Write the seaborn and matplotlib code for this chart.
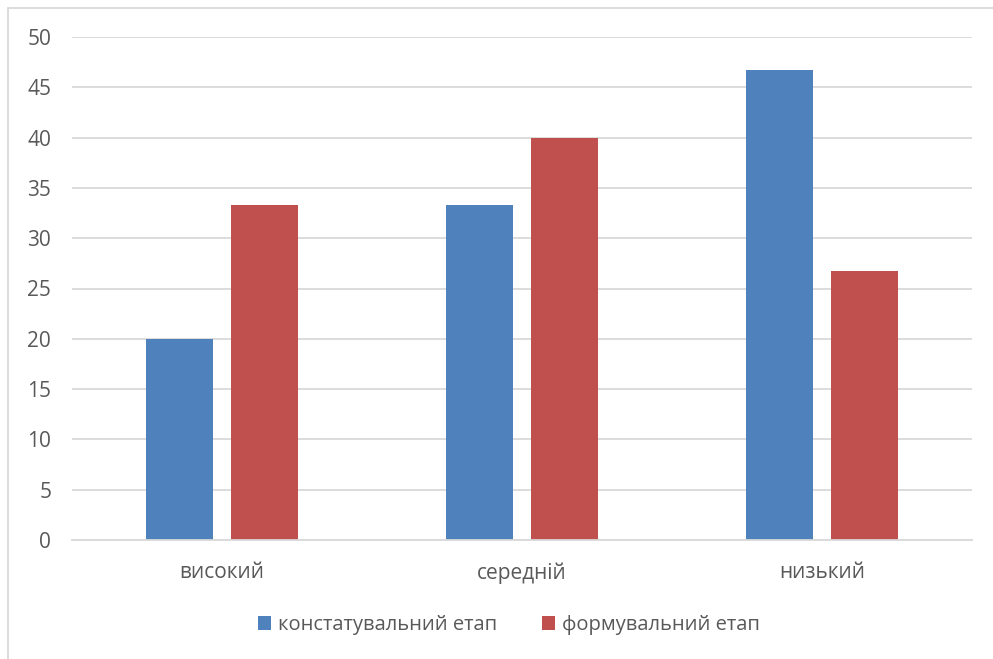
import matplotlib
matplotlib.use("Agg")
import matplotlib.pyplot as plt
from matplotlib.lines import Line2D
from matplotlib.patches import Patch
import seaborn as sns
import pandas as pd

levels = ["високий", "середній", "низький"]
stages = ["констатувальний етап", "формувальний етап"]
stage_ascertaining = [20.0, 33.3, 46.7]
stage_formative = [33.3, 40.0, 26.7]
palette = ["#4F81BD", "#C0504D"]

df = pd.DataFrame({
    "level": levels * 2,
    "stage": [stages[0]] * 3 + [stages[1]] * 3,
    "value": stage_ascertaining + stage_formative,
})

sns.set_theme(style="white")
plt.rcParams["font.family"] = ["Open Sans", "DejaVu Sans"]

W, H = 993, 659
fig = plt.figure(figsize=(W / 100, H / 100), dpi=100)
ax = fig.add_axes([72 / W, (H - 540) / H, 900 / W, 503 / H])

sns.barplot(data=df, x="level", y="value", hue="stage", palette=palette,
            width=0.57, gap=0.217, saturation=1, ax=ax, legend=False,
            edgecolor="none", linewidth=0)

ax.set_ylim(0, 50)
ax.set_xlim(-0.5, 2.5)
ax.set_yticks(range(0, 51, 5))
ax.yaxis.grid(True, color="#D9D9D9", linewidth=1.3)
ax.set_axisbelow(True)
for s in ["left", "right", "top"]:
    ax.spines[s].set_visible(False)
ax.spines["bottom"].set_color("#D9D9D9")
ax.spines["bottom"].set_linewidth(1.3)
ax.set_xlabel("")
ax.set_ylabel("")
ax.tick_params(axis="y", length=0, pad=15, labelsize=15, labelcolor="#595959")
ax.tick_params(axis="x", length=0, pad=16, labelsize=15, labelcolor="#595959")

handles = [Patch(facecolor=c, edgecolor="none") for c in palette]
fig.legend(handles, stages, loc="center", bbox_to_anchor=(509 / W, (H - 625) / H),
           ncol=2, frameon=False, fontsize=14.5, labelcolor="#595959",
           handlelength=0.65, handleheight=0.65, handletextpad=0.35,
           columnspacing=2.2)

# outer chart frame (left and top edges visible)
fig.add_artist(Line2D([8 / W, 8 / W], [0, 1 - 8 / H], color="#D9D9D9", linewidth=1.3,
                      transform=fig.transFigure))
fig.add_artist(Line2D([8 / W, 1], [1 - 8 / H, 1 - 8 / H], color="#D9D9D9", linewidth=1.3,
                      transform=fig.transFigure))

fig.savefig("out.png", dpi=100)
